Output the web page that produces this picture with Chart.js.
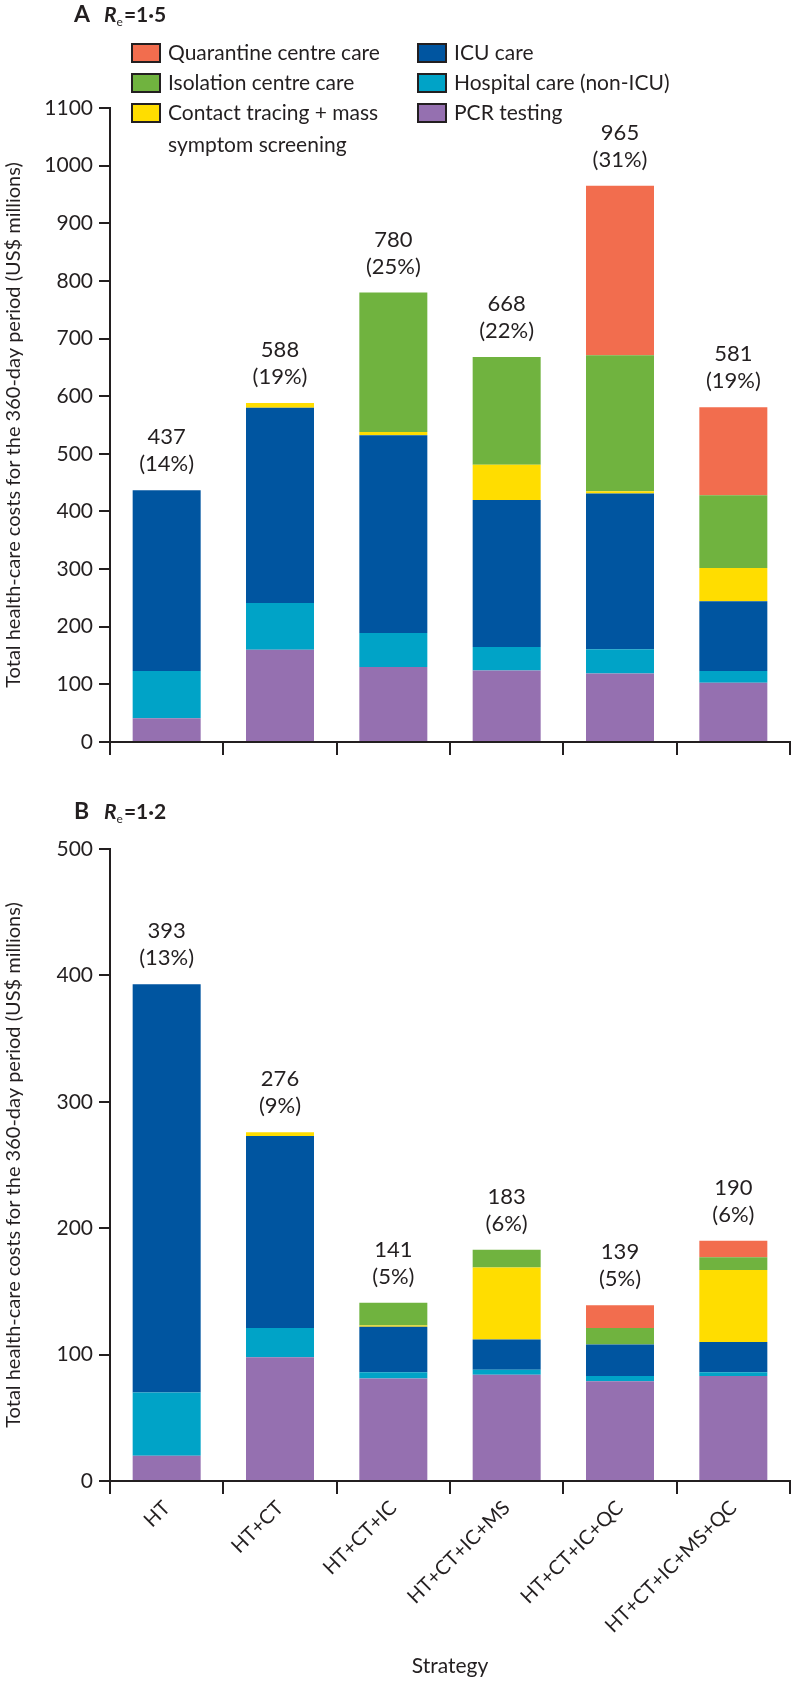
<!DOCTYPE html>
<html>
<head>
<meta charset="utf-8">
<script src="https://cdn.jsdelivr.net/npm/chart.js@4.4.0/dist/chart.umd.min.js"></script>
<style>
body{margin:0;background:#fff;width:791px;height:1681px;position:relative;overflow:hidden}
.box{position:absolute;left:0;width:791px}
#boxA{top:0;height:770px}
#boxB{top:770px;height:911px}
</style>
</head>
<body>
<div class="box" id="boxA"><canvas id="chartA"></canvas></div>
<div class="box" id="boxB"><canvas id="chartB"></canvas></div>
<script>
const strategies = ["HT", "HT+CT", "HT+CT+IC", "HT+CT+IC+MS", "HT+CT+IC+QC", "HT+CT+IC+MS+QC"]
// stacking order, bottom to top
const seriesNames = ["PCR testing", "Hospital care (non-ICU)", "ICU care", "Contact tracing + mass\nsymptom screening", "Isolation centre care", "Quarantine centre care"]
const seriesColors = ["#9570b0", "#00a3c7", "#0055a0", "#ffdd00", "#70b33f", "#f26d4e"]

// panel A, Re = 1.5 (US$ millions)
const pcrA   = [41, 160, 130, 124, 119, 103]
const hospA  = [82, 81, 59, 41, 42, 20]
const icuA   = [314, 339, 343, 255, 270, 121]
const ctA    = [0, 8, 6, 61, 4, 58]
const isoA   = [0, 0, 242, 187, 236, 126]
const quarA  = [0, 0, 0, 0, 294, 153]
const totalA = [437, 588, 780, 668, 965, 581]
const pctA   = [14, 19, 25, 22, 31, 19]
const ticksA = {min: 0, max: 1100, step: 100}

// panel B, Re = 1.2
const pcrB   = [20, 98, 81, 84, 79, 83]
const hospB  = [50, 23, 5, 4, 4, 3]
const icuB   = [323, 152, 36, 24, 25, 24]
const ctB    = [0, 3, 1, 57, 0, 57]
const isoB   = [0, 0, 18, 14, 13, 10]
const quarB  = [0, 0, 0, 0, 18, 13]
const totalB = [393, 276, 141, 183, 139, 190]
const pctB   = [13, 9, 5, 6, 5, 6]
const ticksB = {min: 0, max: 500, step: 100}

const ink = "#231f20"
const yTitle = "Total health-care costs for the 360-day period (US$ millions)"

const panelPlugin = {
    id: "panel",
    afterDatasetsDraw(chart, args, opts){
        const ctx = chart.ctx
        const xs = chart.scales.x, ys = chart.scales.y
        ctx.save()
        ctx.fillStyle = ink
        ctx.textAlign = "center"
        ctx.textBaseline = "middle"
        ctx.font = "22px Lato"
        opts.totals.forEach((t, i) => {
            let sum = 0
            for(const ds of chart.data.datasets) sum += ds.data[i]
            const px = xs.getPixelForValue(i)
            const py = ys.getPixelForValue(sum)
            ctx.fillText(String(t), px, py - 53)
            ctx.fillText("(" + opts.pcts[i] + "%)", px, py - 26)
        })

        // panel letter and Re
        const hy = opts.headY
        ctx.textAlign = "left"
        ctx.font = "bold 23px Lato"
        ctx.fillText(opts.letter, 74, hy)
        ctx.font = "italic bold 21px Lato"
        ctx.fillText("R", 104, hy)
        let x = 104 + ctx.measureText("R").width
        ctx.font = "12px Lato"
        ctx.fillText("e", x, hy + 7)
        x += ctx.measureText("e").width + 1
        ctx.font = "bold 21px Lato"
        ctx.fillText("=" + opts.re, x, hy)

        // legend, two columns
        if(opts.legend){
            const cols = [[5, 4, 3], [2, 1, 0]]
            const colX = [132, 418]
            const rowY = [53, 83, 113]
            ctx.font = "21px Lato"
            cols.forEach((col, c) => {
                col.forEach((d, r) => {
                    const ds = chart.data.datasets[d]
                    ctx.fillStyle = ds.backgroundColor
                    ctx.fillRect(colX[c], rowY[r] - 9, 28, 18)
                    ctx.strokeStyle = ink
                    ctx.lineWidth = 2
                    ctx.strokeRect(colX[c], rowY[r] - 9, 28, 18)
                    ctx.fillStyle = ink
                    ds.label.split("\n").forEach((line, k) => {
                        ctx.fillText(line, colX[c] + 36, rowY[r] + k * 32)
                    })
                })
            })
        }
        ctx.restore()
    }
}

function makeDatasets(series){
    return series.map((data, i) => ({
        label: seriesNames[i],
        data: data,
        backgroundColor: seriesColors[i],
        borderWidth: 0,
        barPercentage: 0.6,
        categoryPercentage: 1.0
    }))
}

function drawPanel(id, series, range, totals, pcts, head, showLabels, topPad, xHeight){
    new Chart(document.getElementById(id), {
        type: "bar",
        data: {
            labels: strategies,
            datasets: makeDatasets(series)
        },
        plugins: [panelPlugin],
        options: {
            responsive: true,
            maintainAspectRatio: false,
            animation: false,
            layout: {padding: {top: topPad, right: 1, left: 0, bottom: 0}},
            plugins: {
                legend: {display: false},
                tooltip: {enabled: false},
                panel: {
                    totals: totals,
                    pcts: pcts,
                    letter: head.letter,
                    re: head.re,
                    headY: head.y,
                    legend: head.legend
                }
            },
            scales: {
                x: {
                    stacked: true,
                    offset: true,
                    afterFit: s => { s.height = xHeight },
                    border: {display: true, color: ink, width: 2},
                    grid: {offset: true, drawOnChartArea: false, drawTicks: true, tickLength: 13, color: ink, lineWidth: 2},
                    ticks: {
                        display: showLabels,
                        autoSkip: false,
                        minRotation: 45,
                        maxRotation: 45,
                        padding: 2,
                        color: ink,
                        font: {family: "Lato", size: 20}
                    },
                    title: {
                        display: showLabels,
                        text: "Strategy",
                        color: ink,
                        font: {family: "Lato", size: 21},
                        padding: {top: 0, bottom: 2}
                    }
                },
                y: {
                    stacked: true,
                    min: range.min,
                    max: range.max,
                    afterFit: s => { s.width = 110 },
                    border: {display: true, color: ink, width: 2},
                    grid: {drawOnChartArea: false, drawTicks: true, tickLength: 11, color: ink, lineWidth: 2},
                    ticks: {
                        stepSize: range.step,
                        padding: 6,
                        color: ink,
                        font: {family: "Lato", size: 21},
                        callback: v => String(v)
                    },
                    title: {
                        display: true,
                        text: yTitle,
                        color: ink,
                        font: {family: "Lato", size: 20},
                        padding: {top: 2, bottom: 0}
                    }
                }
            }
        }
    })
}

drawPanel("chartA", [pcrA, hospA, icuA, ctA, isoA, quarA], ticksA, totalA, pctA,
    {letter: "A", re: "1·5", y: 15, legend: true}, false, 108, 28)
drawPanel("chartB", [pcrB, hospB, icuB, ctB, isoB, quarB], ticksB, totalB, pctB,
    {letter: "B", re: "1·2", y: 42, legend: false}, true, 79, 200)
</script>
</body>
</html>
